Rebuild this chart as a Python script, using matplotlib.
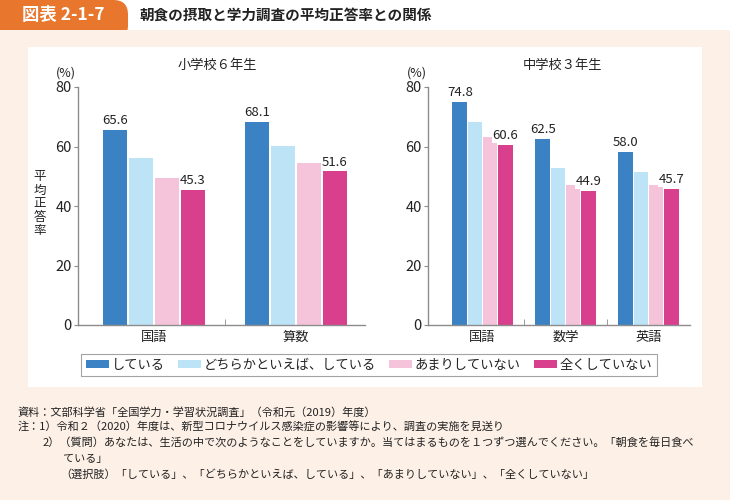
import numpy as np
import matplotlib
matplotlib.use('Agg')
import matplotlib.pyplot as plt
from matplotlib.patches import Rectangle, FancyBboxPatch, Patch

plt.rcParams['font.family'] = ['Noto Sans CJK JP', 'DejaVu Sans']

W, H = 730, 500

# data
series = ['している', 'どちらかといえば、している', 'あまりしていない', '全くしていない']
colors = ['#3a82c4', '#bde3f7', '#f5c4da', '#d8408e']

elem_subjects = ['国語', '算数']
elem_values = [
    [65.6, 68.1],
    [56.1, 60.2],
    [49.3, 54.3],
    [45.3, 51.6],
]

jhs_subjects = ['国語', '数学', '英語']
jhs_values = [
    [74.8, 62.5, 58.0],
    [68.3, 52.8, 51.3],
    [63.3, 46.9, 47.2],
    [60.6, 44.9, 45.7],
]

notes = [
    '資料：文部科学省「全国学力・学習状況調査」（令和元（2019）年度）',
    '注：1）令和２（2020）年度は、新型コロナウイルス感染症の影響等により、調査の実施を見送り',
    '2）（質問）あなたは、生活の中で次のようなことをしていますか。当てはまるものを１つずつ選んでください。「朝食を毎日食べ',
    'ている」',
    '（選択肢）「している」、「どちらかといえば、している」、「あまりしていない」、「全くしていない」',
]

BG = '#fdf0e7'
AXC = '#8c8c8c'
TXT = '#222222'


def fx(x):
    return x / W


def fy(y):
    return 1 - y / H


fig = plt.figure(figsize=(7.3, 5.0), dpi=100, facecolor=BG)

# header
fig.patches.append(Rectangle((0, fy(30)), 1, 30 / H, transform=fig.transFigure,
                             facecolor='white', edgecolor='none', zorder=0))
fig.patches.append(FancyBboxPatch((fx(-20), fy(40)), fx(148), 40 / H,
                                  boxstyle='round,pad=0,rounding_size=0.02',
                                  transform=fig.transFigure, mutation_aspect=730 / 500,
                                  facecolor='#e8762c', edgecolor='none', zorder=1))
fig.patches.append(Rectangle((0, 0), 1, fy(30), transform=fig.transFigure,
                             facecolor=BG, edgecolor='none', zorder=2))
fig.patches.append(Rectangle((fx(28), fy(387)), fx(674), (387 - 47) / H,
                             transform=fig.transFigure, facecolor='white',
                             edgecolor='none', zorder=3))
fig.text(fx(63), fy(15), '図表 2-1-7', color='white', fontsize=12.5, fontweight='bold',
         ha='center', va='center', zorder=5)
fig.text(fx(140), fy(15), '朝食の摂取と学力調査の平均正答率との関係', color=TXT,
         fontsize=10.5, fontweight='bold', ha='left', va='center', zorder=5)


def draw_panel(rect, subjects, values, title, title_x):
    ax = fig.add_axes(rect)
    ax.set_zorder(5)
    ax.patch.set_alpha(0)
    step = 0.183
    width = 0.175
    x = np.arange(len(subjects))
    for i, (vals, c) in enumerate(zip(values, colors)):
        pos = x + (i - 1.5) * step
        ax.bar(pos, vals, width=width, color=c, edgecolor='none', zorder=2)
        if i in (0, 3):
            for p, v in zip(pos, vals):
                ax.text(p, v + 1.0, f'{v:.1f}', ha='center', va='bottom',
                        fontsize=9.5, color=TXT, zorder=4,
                        bbox=dict(facecolor='white', edgecolor='none', pad=0.6))
    ax.set_ylim(0, 80)
    ax.set_yticks([0, 20, 40, 60, 80])
    ax.set_xticks(x)
    ax.set_xticklabels(subjects, fontsize=9.5, color=TXT)
    ax.set_xticks(np.arange(len(subjects) - 1) + 0.5, minor=True)
    ax.tick_params(axis='x', which='major', length=0, pad=4)
    ax.tick_params(axis='x', which='minor', length=4, direction='in', color=AXC)
    ax.tick_params(axis='y', length=3, color=AXC, labelsize=10.5, labelcolor=TXT, pad=1.5)
    for s in ('top', 'right'):
        ax.spines[s].set_visible(False)
    for s in ('left', 'bottom'):
        ax.spines[s].set_color(AXC)
        ax.spines[s].set_linewidth(1.0)
    fig.text(fx(title_x), fy(65), title, fontsize=9.5, color=TXT, ha='center',
             va='center', zorder=6)
    return ax


ax1 = draw_panel([fx(78), fy(325), fx(287), 238 / H], elem_subjects, elem_values,
                 '小学校６年生', 217)
ax1.set_xlim(-0.535, 1.486)
fig.text(fx(66), fy(73), '(%)', fontsize=9, color=TXT, ha='center', va='center', zorder=6)
fig.text(fx(40), fy(204), '\n'.join('平均正答率'), fontsize=9, color=TXT, ha='center',
         va='center', linespacing=1.05, zorder=6)

ax2 = draw_panel([fx(428), fy(325), fx(262), 238 / H], jhs_subjects, jhs_values,
                 '中学校３年生', 562)
ax2.set_xlim(-0.657, 2.5)
fig.text(fx(417), fy(73), '(%)', fontsize=9, color=TXT, ha='center', va='center', zorder=6)

handles = [Patch(facecolor=c, edgecolor='none') for c in colors]
leg = fig.legend(handles, series, loc='center', bbox_to_anchor=(fx(369), fy(365)),
                 ncol=4, fontsize=9.5, frameon=True, fancybox=False,
                 handlelength=1.75, handleheight=0.55, handletextpad=0.2,
                 columnspacing=1.0, borderpad=0.35, borderaxespad=0)
leg.get_frame().set_edgecolor(AXC)
leg.get_frame().set_linewidth(0.8)
leg.set_zorder(7)
for t in leg.get_texts():
    t.set_color(TXT)

note_pos = [(18, 412), (18, 427), (43, 442), (63, 459), (60, 475)]
for txt, (nx, ny) in zip(notes, note_pos):
    fig.text(fx(nx), fy(ny), txt, fontsize=8, color=TXT, ha='left', va='center', zorder=6)

fig.savefig('out.png', dpi=100, facecolor=BG)
